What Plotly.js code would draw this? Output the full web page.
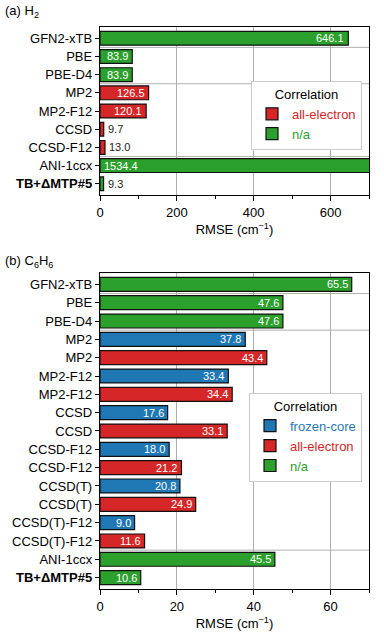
<!DOCTYPE html>
<html>
<head>
<meta charset="utf-8">
<script src="https://cdn.plot.ly/plotly-3.0.1.min.js"></script>
<style>html,body{margin:0;padding:0;background:#fff;}#chart{width:384px;height:643px;}</style>
</head>
<body>
<div id="chart"></div>
<script>
// ---------- data ----------
const h2Labels = ['GFN2-xTB','PBE','PBE-D4','MP2','MP2-F12','CCSD','CCSD-F12','ANI-1ccx','<b>TB+ΔMTP#5</b>'];
const h2Values = [646.1, 83.9, 83.9, 126.5, 120.1, 9.7, 13.0, 1534.4, 9.3];
const h2Corr   = ['n/a','n/a','n/a','all-electron','all-electron','all-electron','all-electron','n/a','n/a'];
const h2Group  = ['SQM','DFT','DFT','WFT','WFT','WFT','WFT','ML','ML'];

const bzLabels = ['GFN2-xTB','PBE','PBE-D4','MP2','MP2','MP2-F12','MP2-F12','CCSD','CCSD','CCSD-F12','CCSD-F12','CCSD(T)','CCSD(T)','CCSD(T)-F12','CCSD(T)-F12','ANI-1ccx','<b>TB+ΔMTP#5</b>'];
const bzValues = [65.5, 47.6, 47.6, 37.8, 43.4, 33.4, 34.4, 17.6, 33.1, 18.0, 21.2, 20.8, 24.9, 9.0, 11.6, 45.5, 10.6];
const bzCorr   = ['n/a','n/a','n/a','frozen-core','all-electron','frozen-core','all-electron','frozen-core','all-electron','frozen-core','all-electron','frozen-core','all-electron','frozen-core','all-electron','n/a','n/a'];
const bzGroup  = ['SQM','DFT','DFT','WFT','WFT','WFT','WFT','WFT','WFT','WFT','WFT','WFT','WFT','WFT','WFT','ML','ML'];

const corrCats = ['frozen-core','all-electron','n/a'];
const corrColors = {'frozen-core':'#1f77b4','all-electron':'#d62728','n/a':'#2ca02c'};

// ---------- build ----------
const FONT = 'Liberation Sans, Arial, Helvetica, sans-serif';
const traces = [];
const annotations = [];
const shapes = [];

function addPanel(labels, values, corr, groups, xa, ya, legendId, xmax) {
  const idx = labels.map((_, i) => i);
  corrCats.forEach(cat => {
    const ys = [], xs = [];
    idx.forEach(i => { if (corr[i] === cat) { ys.push(i); xs.push(values[i]); } });
    if (!ys.length) return;
    traces.push({
      type: 'bar', orientation: 'h', x: xs, y: ys,
      xaxis: xa, yaxis: ya, width: 0.76,
      name: '<span style="color:' + corrColors[cat] + '">' + cat + '</span>',
      legend: legendId,
      marker: {color: corrColors[cat], line: {color: '#111', width: 1.2}},
      hoverinfo: 'x'
    });
  });
  // value labels
  idx.forEach(i => {
    const v = values[i];
    const txt = v.toFixed(1);
    let a;
    if (v > xmax) {
      a = {x: 0, xanchor: 'left', xshift: 2, font: {color: '#fff', size: 11, family: FONT}};
    } else if (v / xmax < 0.08) {
      a = {x: v, xanchor: 'left', xshift: 2, font: {color: '#222', size: 11, family: FONT}};
    } else {
      a = {x: v, xanchor: 'right', xshift: -2, font: {color: '#fff', size: 11, family: FONT}};
    }
    Object.assign(a, {y: i, xref: xa, yref: ya, text: txt, showarrow: false, yanchor: 'middle'});
    annotations.push(a);
  });
  // group separators
  for (let i = 1; i < groups.length; i++) {
    if (groups[i] !== groups[i - 1]) {
      shapes.push({type: 'line', xref: xa + ' domain', yref: ya, x0: 0, x1: 1, y0: i - 0.5, y1: i - 0.5,
        line: {color: '#b0b0b0', width: 1}, layer: 'below'});
    }
  }
}

addPanel(h2Labels, h2Values, h2Corr, h2Group, 'x', 'y', 'legend', 700);
addPanel(bzLabels, bzValues, bzCorr, bzGroup, 'x2', 'y2', 'legend2', 70);

function xaxisDef(maxv, dt, anchor) {
  return {
    anchor: anchor, range: [0, maxv], dtick: dt, tick0: 0,
    showgrid: true, gridcolor: '#b0b0b0', gridwidth: 1, zeroline: false,
    showline: true, linecolor: '#000', linewidth: 1.2, mirror: true,
    ticks: 'outside', ticklen: 5, tickwidth: 1, tickcolor: '#000',
    minor: {dtick: dt / 2, ticks: 'outside', ticklen: 3, tickwidth: 1, tickcolor: '#000', showgrid: false},
    tickfont: {size: 13, family: FONT, color: '#000'},
    title: {text: 'RMSE (cm<sup>−1</sup>)', font: {size: 13, family: FONT, color: '#000'}, standoff: 6},
    fixedrange: true
  };
}
function yaxisDef(labels, domain, anchor) {
  const n = labels.length;
  return {
    domain: domain, anchor: anchor,
    range: [n - 1 + 0.62, -0.62],
    tickmode: 'array', tickvals: labels.map((_, i) => i), ticktext: labels,
    showgrid: false, zeroline: false,
    showline: true, linecolor: '#000', linewidth: 1.2, mirror: true,
    ticks: 'outside', ticklen: 4, tickwidth: 1, tickcolor: '#000',
    tickfont: {size: 13, family: FONT, color: '#000'},
    fixedrange: true
  };
}

annotations.push({xref: 'paper', yref: 'paper', x: -0.36, y: 1.027, xanchor: 'left', yanchor: 'middle',
  text: '(a) H<sub>2</sub>', showarrow: false, font: {size: 13, family: FONT, color: '#000'}});
annotations.push({xref: 'paper', yref: 'paper', x: -0.36, y: 0.582, xanchor: 'left', yanchor: 'middle',
  text: '(b) C<sub>6</sub>H<sub>6</sub>', showarrow: false, font: {size: 13, family: FONT, color: '#000'}});

const legendCommon = {
  xref: 'paper', yref: 'paper', xanchor: 'right', yanchor: 'top',
  bgcolor: '#fff', bordercolor: '#cccccc', borderwidth: 1,
  font: {size: 13, family: FONT, color: '#000'},
  title: {text: 'Correlation', side: 'top center', font: {size: 13, family: FONT, color: '#000'}},
  traceorder: 'normal', itemclick: false, itemdoubleclick: false
};

const layout = {
  width: 384, height: 643,
  margin: {l: 100, r: 15, t: 27, b: 54},
  paper_bgcolor: '#fff', plot_bgcolor: '#fff',
  barmode: 'overlay',
  showlegend: true,
  font: {family: FONT, size: 13, color: '#000'},
  xaxis: xaxisDef(700, 200, 'y'),
  yaxis: yaxisDef(h2Labels, [0.701, 1], 'x'),
  xaxis2: xaxisDef(70, 20, 'y2'),
  yaxis2: yaxisDef(bzLabels, [0, 0.5623], 'x2'),
  legend: Object.assign({}, legendCommon, {x: 0.974, y: 0.904}),
  legend2: Object.assign({}, legendCommon, {x: 0.974, y: 0.349}),
  annotations: annotations,
  shapes: shapes
};

Plotly.newPlot('chart', traces, layout, {displayModeBar: false, staticPlot: true});
</script>
</body>
</html>
